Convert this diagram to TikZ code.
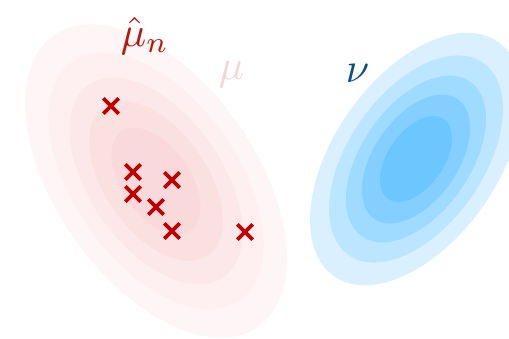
\documentclass[tikz,border=0pt]{standalone}
\usepackage{amsmath}
\usepackage{xcolor}
\usetikzlibrary{shapes.misc}
\definecolor{redA}{HTML}{FEF6F6}
\definecolor{redB}{HTML}{FEF0F0}
\definecolor{redC}{HTML}{FCE8E8}
\definecolor{redD}{HTML}{FBE0E0}
\definecolor{redE}{HTML}{FAD9DA}
\definecolor{blueA}{HTML}{DBF0FE}
\definecolor{blueB}{HTML}{BCE5FF}
\definecolor{blueC}{HTML}{9FDAFF}
\definecolor{blueD}{HTML}{84CFFF}
\definecolor{blueE}{HTML}{6CC7FF}
\definecolor{empir}{HTML}{B5180A}
\definecolor{truth}{HTML}{F3D6D6}
\definecolor{target}{HTML}{0D4E86}
\definecolor{sampl}{HTML}{C00000}
\tikzset{
  sample/.style={cross out, draw=sampl, line width=3.8pt, minimum size=11.5pt, inner sep=0pt},
  lbl/.style={inner sep=0pt, anchor=base west, scale=4.2},
}
\begin{document}
\begin{tikzpicture}[x=1pt, y=-1pt]
\useasboundingbox (0,0) rectangle (509,338);
\clip (0,0) rectangle (509,338);
% source density (red levels)
\foreach \s/\c in {1/redA, 0.82/redB, 0.66/redC, 0.51/redD, 0.34/redE}
  \fill[\c, rotate around={-55:(156,181)}] (156,181) ellipse [x radius=178*\s, y radius=100*\s];
% target density (blue levels)
\foreach \s/\c in {1/blueA, 0.82/blueB, 0.66/blueC, 0.51/blueD, 0.34/blueE}
  \fill[\c, rotate around={55:(416,159)}] (416,159) ellipse [x radius=143*\s, y radius=82*\s];
% samples
\node[sample] (s1) at (111,106) {};
\node[sample] (s2) at (133,172) {};
\node[sample] (s3) at (172,180) {};
\node[sample] (s4) at (133,194) {};
\node[sample] (s5) at (156,207) {};
\node[sample] (s6) at (172,231) {};
\node[sample] (s7) at (245,232) {};
% labels
\node[lbl, empir] (muhat) at (120,46) {$\hat{\mu}_n$};
\node[lbl, truth] (mu) at (218,79) {$\mu$};
\node[lbl, target] (nu) at (345,82) {$\nu$};
\end{tikzpicture}
\end{document}
